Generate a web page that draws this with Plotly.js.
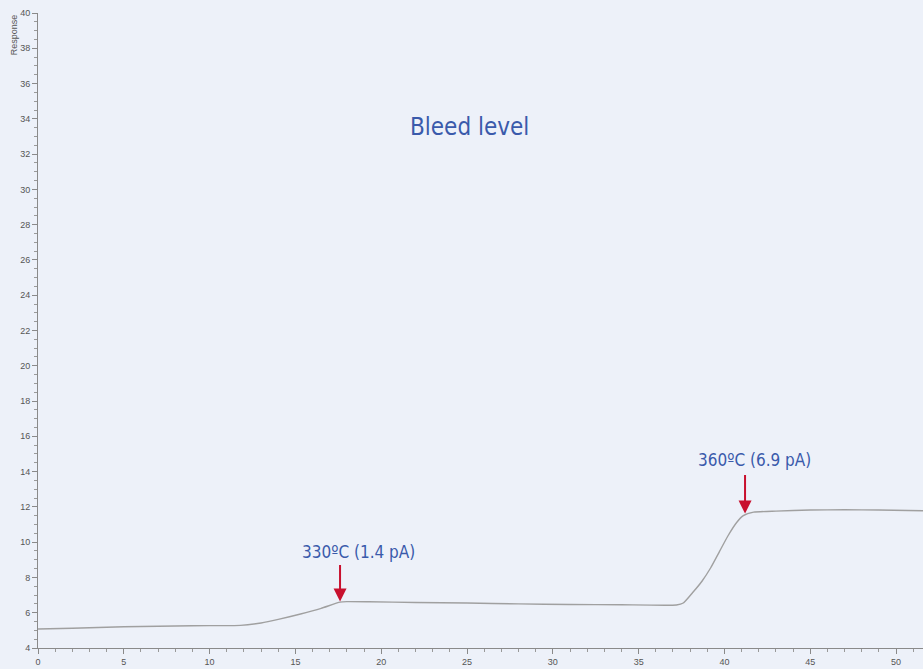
<!DOCTYPE html>
<html>
<head>
<meta charset="utf-8">
<script src="https://cdn.plot.ly/plotly-3.0.1.min.js"></script>
<style>
html,body{margin:0;padding:0;background:#edf1f9;}
#chart{width:923px;height:669px;}
</style>
</head>
<body>
<div id="chart"></div>
<script>
// Retention time (x) and detector response (y)
const timeValues = [0, 2, 4, 6, 8, 10, 11.8, 13, 14, 15.3, 16.5, 17.6, 18, 19.3, 22, 25, 28, 31, 34, 37.2, 37.6, 38.2, 38.7, 39.2, 39.7, 40.2, 40.7, 41.1, 41.7, 43, 45, 47, 49, 51.6];
const responseValues = [5.08, 5.12, 5.18, 5.22, 5.25, 5.27, 5.28, 5.42, 5.62, 5.93, 6.25, 6.6, 6.63, 6.62, 6.58, 6.55, 6.5, 6.47, 6.45, 6.44, 6.55, 7.2, 7.8, 8.55, 9.45, 10.35, 11.1, 11.5, 11.7, 11.76, 11.82, 11.84, 11.82, 11.78];

// Annotated points (arrow tips) and label positions
const markerX = [17.6, 41.2];
const markerY = [6.64, 11.62];
const labelX = [18.65, 41.78];
const labelY = [9.44, 14.66];
const markerLabels = ["330ºC (1.4 pA)", "360ºC (6.9 pA)"];

const chartTitle = "Bleed level";
const yAxisLabel = "Response";

const xTicks = [0, 5, 10, 15, 20, 25, 30, 35, 40, 45, 50];
const yTicks = [4, 6, 8, 10, 12, 14, 16, 18, 20, 22, 24, 26, 28, 30, 32, 34, 36, 38, 40];

const narrow = "DejaVu Sans Condensed, Liberation Sans Narrow, Arial Narrow, sans-serif";
const blue = "#3a5aab";
const red = "#c8102e";

const trace = {
  x: timeValues,
  y: responseValues,
  type: "scatter",
  mode: "lines",
  line: {color: "#a0a0a0", width: 1.4, shape: "spline", smoothing: 0.5},
  hoverinfo: "skip"
};

const annotations = [
  {
    xref: "paper", yref: "paper", x: 0.488, y: 0.821,
    text: chartTitle, showarrow: false,
    font: {family: narrow, size: 24, color: blue},
    xanchor: "center", yanchor: "middle"
  },
  {
    xref: "paper", yref: "paper", x: -0.027, y: 0.965,
    text: yAxisLabel, showarrow: false, textangle: -90,
    font: {family: "Liberation Sans, Arial, sans-serif", size: 9, color: "#555"},
    xanchor: "center", yanchor: "middle"
  }
];
const arrowLen = [-38, -40];
markerLabels.forEach((lbl, i) => {
  annotations.push({
    x: labelX[i], y: labelY[i], xref: "x", yref: "y",
    text: lbl, showarrow: false,
    xanchor: "center", yanchor: "middle",
    font: {family: narrow, size: 17, color: blue}
  });
  annotations.push({
    x: markerX[i], y: markerY[i], xref: "x", yref: "y",
    text: "", showarrow: true,
    ax: 0, ay: arrowLen[i],
    arrowcolor: red, arrowwidth: 2, arrowhead: 2, arrowsize: 1.3,
    standoff: 0
  });
});

const axisCommon = {
  showgrid: false, zeroline: false, showline: true,
  linecolor: "#8a8a8a", linewidth: 1,
  ticks: "outside", ticklen: 5, tickcolor: "#8a8a8a", tickwidth: 1,
  tickfont: {family: "Liberation Sans, Arial, sans-serif", size: 9, color: "#555"},
  tickmode: "array"
};

const layout = {
  width: 923, height: 669,
  margin: {l: 38, r: 0, t: 13, b: 21},
  paper_bgcolor: "#edf1f9",
  plot_bgcolor: "#edf1f9",
  showlegend: false,
  xaxis: Object.assign({}, axisCommon, {
    range: [0, 51.57], tickvals: xTicks, ticktext: xTicks.map(String),
    minor: {dtick: 1, ticks: "outside", ticklen: 3, tickcolor: "#9a9a9a"}
  }),
  yaxis: Object.assign({}, axisCommon, {
    range: [4, 40], tickvals: yTicks, ticktext: yTicks.map(String),
    minor: {dtick: 0.5, ticks: "outside", ticklen: 3, tickcolor: "#9a9a9a"}
  }),
  annotations: annotations
};

Plotly.newPlot("chart", [trace], layout, {displayModeBar: false, staticPlot: true});
</script>
</body>
</html>
